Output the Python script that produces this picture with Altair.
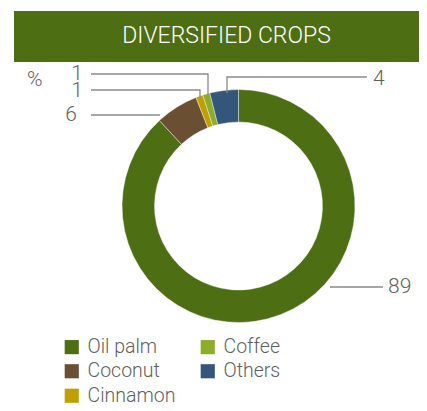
import altair as alt
import pandas as pd

# ---- data ----
crops = ["Oil palm", "Coconut", "Cinnamon", "Coffee", "Others"]
shares = [89, 6, 1, 1, 4]
colors = ["#4e6e14", "#6b4f33", "#bfa000", "#8eab2a", "#34567a"]
legend_order = ["Oil palm", "Coffee", "Coconut", "Others", "Cinnamon"]
title_text = "DIVERSIFIED CROPS"
unit_text = "%"

# ---- label layout (annotation positions, chart pixels) ----
label_pos = {
    "Oil palm": (380, 279, "left"),
    "Coconut": (69, 107, "right"),
    "Cinnamon": (75, 83, "right"),
    "Coffee": (75, 66, "right"),
    "Others": (365, 71, "left"),
}
leaders = {
    "Oil palm": [(322, 279), (375, 279)],
    "Coconut": [(152, 107), (83, 107)],
    "Cinnamon": [(192, 90), (192, 82), (83, 82)],
    "Coffee": [(200, 87), (200, 66), (83, 66)],
    "Others": [(219, 85), (219, 69), (359, 69)],
}

W, H = 411, 395
CX, CY = 230.5, 198
R_OUT, R_IN = 116.5, 84
FONT = "Roboto"
GREY = "#5f5f5f"

pie_df = pd.DataFrame({"crop": crops, "share": shares, "ord": list(range(len(crops)))})

lab_rows = []
for c, s in zip(crops, shares):
    x, y, a = label_pos[c]
    lab_rows.append({"crop": c, "txt": str(s), "x": x, "y": y, "align": a})
lab_df = pd.DataFrame(lab_rows)

line_rows = []
for c in crops:
    for i, (x, y) in enumerate(leaders[c]):
        line_rows.append({"crop": c, "i": i, "x": x, "y": y})
line_df = pd.DataFrame(line_rows)

one = pd.DataFrame({"a": [0]})

banner = alt.Chart(one).mark_rect(color="#4e6e14").encode(
    x=alt.value(6), x2=alt.value(411), y=alt.value(3), y2=alt.value(54)
)
title = alt.Chart(one).mark_text(
    text=title_text, color="white", font=FONT, fontSize=23, fontWeight=300,
    align="center", baseline="middle"
).encode(x=alt.value(218.5), y=alt.value(28))

arc = alt.Chart(pie_df).mark_arc(
    radius=R_OUT, radius2=R_IN, stroke="white", strokeWidth=0.4
).encode(
    theta=alt.Theta("share:Q", stack=True),
    order=alt.Order("ord:Q"),
    color=alt.Color(
        "crop:N",
        scale=alt.Scale(domain=crops, range=colors),
        sort=legend_order,
        legend=alt.Legend(
            title=None, orient="none", legendX=54, legendY=329, columns=2,
            symbolType="square", symbolSize=200, symbolStrokeWidth=0,
            symbolOpacity=1, labelFont=FONT, labelFontSize=19.5, labelFontWeight=300,
            labelColor=GREY, labelOffset=6, rowPadding=3.5, columnPadding=22,
            padding=0, labelLimit=200,
        ),
    ),
    x=alt.value(CX), y=alt.value(CY),
)

lines = alt.Chart(line_df).mark_line(color="#8a8a8a", strokeWidth=1.3).encode(
    x=alt.X("x:Q", scale=None), y=alt.Y("y:Q", scale=None),
    detail="crop:N", order="i:Q",
)

labels_l = alt.Chart(lab_df[lab_df["align"] == "left"]).mark_text(
    align="left", baseline="middle", font=FONT, fontSize=21, fontWeight=300, color=GREY
).encode(x=alt.X("x:Q", scale=None), y=alt.Y("y:Q", scale=None), text="txt:N")
labels_r = alt.Chart(lab_df[lab_df["align"] == "right"]).mark_text(
    align="right", baseline="middle", font=FONT, fontSize=21, fontWeight=300, color=GREY
).encode(x=alt.X("x:Q", scale=None), y=alt.Y("y:Q", scale=None), text="txt:N")

unit = alt.Chart(one).mark_text(
    text=unit_text, align="left", baseline="middle", font=FONT, fontSize=21,
    fontWeight=300, color=GREY
).encode(x=alt.value(19), y=alt.value(72))

chart = alt.layer(banner, title, arc, lines, labels_l, labels_r, unit).properties(
    width=W, height=H, padding=0, autosize=alt.AutoSizeParams(type="none")
).configure_view(stroke=None)

chart.save("out.html", embed_options={"renderer": "svg", "actions": False})
